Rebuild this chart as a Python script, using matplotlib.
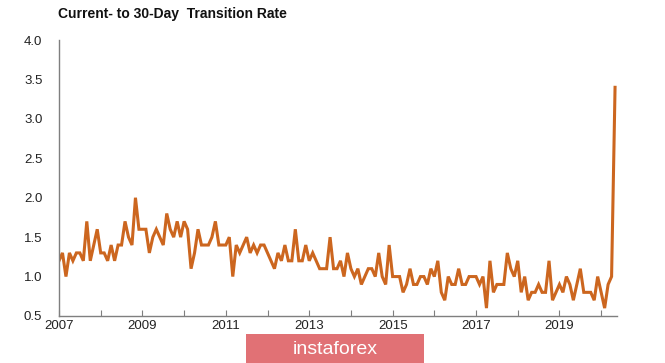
import matplotlib
matplotlib.use('Agg')
import matplotlib.pyplot as plt
import numpy as np

plt.rcParams['font.family'] = ['Liberation Sans', 'DejaVu Sans']

# monthly transition rate, Jan 2007 onwards
rate_2007 = [1.2, 1.3, 1.0, 1.3, 1.2, 1.3, 1.3, 1.2, 1.7, 1.2, 1.4, 1.6]
rate_2008 = [1.3, 1.3, 1.2, 1.4, 1.2, 1.4, 1.4, 1.7, 1.5, 1.4, 2.0, 1.6]
rate_2009 = [1.6, 1.6, 1.3, 1.5, 1.6, 1.5, 1.4, 1.8, 1.6, 1.5, 1.7, 1.5]
rate_2010 = [1.7, 1.6, 1.1, 1.3, 1.6, 1.4, 1.4, 1.4, 1.5, 1.7, 1.4, 1.4]
rate_2011 = [1.4, 1.5, 1.0, 1.4, 1.3, 1.4, 1.5, 1.3, 1.4, 1.3, 1.4, 1.4]
rate_2012 = [1.3, 1.2, 1.1, 1.3, 1.2, 1.4, 1.2, 1.2, 1.6, 1.2, 1.2, 1.4]
rate_2013 = [1.2, 1.3, 1.2, 1.1, 1.1, 1.1, 1.5, 1.1, 1.1, 1.2, 1.0, 1.3]
rate_2014 = [1.1, 1.0, 1.1, 0.9, 1.0, 1.1, 1.1, 1.0, 1.3, 1.0, 0.9, 1.4]
rate_2015 = [1.0, 1.0, 1.0, 0.8, 0.9, 1.1, 0.9, 0.9, 1.0, 1.0, 0.9, 1.1]
rate_2016 = [1.0, 1.2, 0.8, 0.7, 1.0, 0.9, 0.9, 1.1, 0.9, 0.9, 1.0, 1.0]
rate_2017 = [1.0, 0.9, 1.0, 0.6, 1.2, 0.8, 0.9, 0.9, 0.9, 1.3, 1.1, 1.0]
rate_2018 = [1.2, 0.8, 1.0, 0.7, 0.8, 0.8, 0.9, 0.8, 0.8, 1.2, 0.7, 0.8]
rate_2019 = [0.9, 0.8, 1.0, 0.9, 0.7, 0.9, 1.1, 0.8, 0.8, 0.8, 0.7, 1.0]
rate_2020 = [0.8, 0.6, 0.9, 1.0, 3.4]

rates = (rate_2007 + rate_2008 + rate_2009 + rate_2010 + rate_2011 + rate_2012
         + rate_2013 + rate_2014 + rate_2015 + rate_2016 + rate_2017
         + rate_2018 + rate_2019 + rate_2020)
dates = 2007 + np.arange(len(rates)) / 12.0

x_labels = ['2007', '2009', '2011', '2013', '2015', '2017', '2019']
y_ticks = [0.5, 1.0, 1.5, 2.0, 2.5, 3.0, 3.5, 4.0]

W, H = 665, 363
fig = plt.figure(figsize=(W / 100, H / 100), dpi=100)
fig.patch.set_facecolor('white')
ax = fig.add_axes([59 / W, 1 - 316 / H, (617 - 59) / W, (316 - 40) / H])

ax.plot(dates, rates, color='#cc661f', linewidth=2.2, solid_joinstyle='miter')

ax.set_xlim(2007, 2020.38)
ax.set_ylim(0.5, 4.0)
ax.set_xticks(range(2007, 2021))
ax.set_xticklabels([str(y) if str(y) in x_labels else '' for y in range(2007, 2021)])
ax.set_yticks(y_ticks)
ax.set_yticklabels(['%.1f' % v for v in y_ticks])

for side in ['top', 'right']:
    ax.spines[side].set_visible(False)
for side in ['left', 'bottom']:
    ax.spines[side].set_color('#7f7f7f')
    ax.spines[side].set_linewidth(1.0)

ax.tick_params(axis='x', direction='in', length=4, color='#7f7f7f',
               labelsize=9.5, labelcolor='#222222', pad=3)
ax.tick_params(axis='y', length=0, labelsize=9.5, labelcolor='#222222', pad=12)

fig.text(58 / W, 1 - 14 / H, 'Current- to 30-Day  Transition Rate',
         fontsize=10, fontweight='bold', color='#111111', va='center', ha='left')

# watermark box
fig.patches.append(plt.Rectangle((246 / W, 0), (424 - 246) / W, (363 - 334) / H,
                                 transform=fig.transFigure, facecolor='#e0696e',
                                 edgecolor='none', alpha=0.95))
fig.text(335 / W, 1 - 349 / H, 'instaforex', color='white', fontsize=14,
         ha='center', va='center')

fig.savefig('out.png', dpi=100)
